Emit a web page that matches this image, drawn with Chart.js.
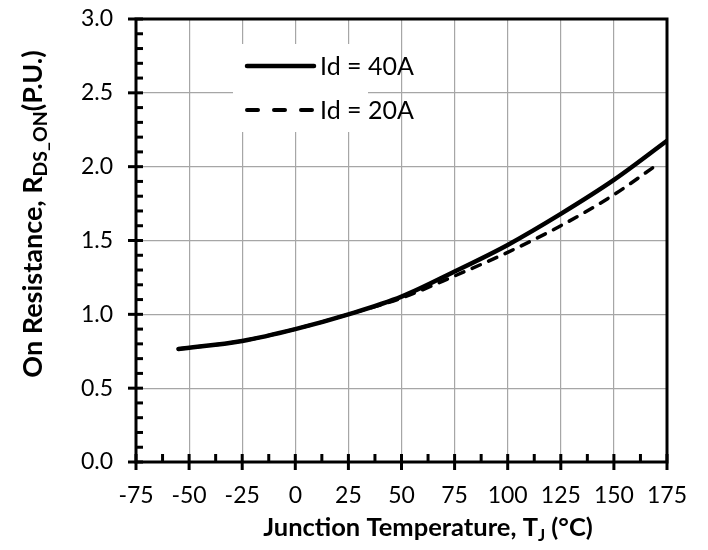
<!DOCTYPE html>
<html>
<head>
<meta charset="utf-8">
<script src="https://cdn.jsdelivr.net/npm/chart.js@4.4.1/dist/chart.umd.min.js"></script>
<style>
html,body{margin:0;padding:0;background:#fff;}
#wrap{width:708px;height:550px;position:relative;}
</style>
</head>
<body>
<div id="wrap"><canvas id="c" width="708" height="550"></canvas></div>
<script>
// Data
const temps40 = [-55, -25, 0, 25, 50, 75, 100, 125, 150, 175];
const rds40   = [0.765, 0.82, 0.90, 1.00, 1.12, 1.29, 1.47, 1.68, 1.91, 2.175];
const temps20 = [-55, -25, 0, 25, 50, 75, 100, 125, 150, 170];
const rds20   = [0.765, 0.82, 0.90, 1.00, 1.11, 1.26, 1.42, 1.60, 1.81, 2.01];
const seriesLabels = ['Id = 40A', 'Id = 20A'];
const xMin = -75, xMax = 175, xStep = 25;
const yMin = 0, yMax = 3.0, yStep = 0.5;

const FONT = 'Lato, "Noto Sans", sans-serif';

const framePlugin = {
  id: 'frame',
  afterDraw(chart) {
    const ctx = chart.ctx;
    const a = chart.chartArea;
    const xs = chart.scales.x, ys = chart.scales.y;
    ctx.save();
    ctx.strokeStyle = '#000';
    ctx.lineWidth = 3;
    ctx.lineCap = 'butt';
    ctx.strokeRect(a.left, a.top, a.right - a.left, a.bottom - a.top);
    // y ticks
    for (let v = yMin; v <= yMax + 1e-9; v += 0.1) {
      const y = ys.getPixelForValue(v);
      const major = Math.abs(Math.round(v / yStep) * yStep - v) < 1e-6;
      ctx.beginPath();
      ctx.moveTo(major ? a.left - 8 : a.left, y);
      ctx.lineTo(a.left + 7, y);
      ctx.stroke();
    }
    // x ticks
    for (let v = xMin; v <= xMax + 1e-9; v += xStep / 2) {
      const x = xs.getPixelForValue(v);
      const major = Math.abs(Math.round(v / xStep) * xStep - v) < 1e-6;
      ctx.beginPath();
      ctx.moveTo(x, a.bottom - 8);
      ctx.lineTo(x, major ? a.bottom + 8 : a.bottom);
      ctx.stroke();
    }
    // legend
    ctx.fillStyle = '#fff';
    ctx.fillRect(233, 44, 135, 88);
    ctx.lineCap = 'round';
    ctx.lineWidth = 4.5;
    ctx.setLineDash([]);
    ctx.beginPath(); ctx.moveTo(247, 66); ctx.lineTo(314, 66); ctx.stroke();
    ctx.lineWidth = 4;
    ctx.setLineDash([11, 16]);
    ctx.beginPath(); ctx.moveTo(247, 110); ctx.lineTo(315, 110); ctx.stroke();
    ctx.setLineDash([]);
    ctx.fillStyle = '#000';
    ctx.font = '25px ' + FONT;
    ctx.textBaseline = 'middle';
    ctx.textAlign = 'left';
    ctx.fillText(seriesLabels[0], 320, 67);
    ctx.fillText(seriesLabels[1], 320, 111);

    // axis titles with subscripts
    function drawRich(parts, size, subRatio) {
      let w = 0;
      parts.forEach(p => {
        ctx.font = 'bold ' + (p.sub ? size * subRatio : size) + 'px ' + FONT;
        p.w = ctx.measureText(p.t).width;
        w += p.w;
      });
      let x = -w / 2;
      parts.forEach(p => {
        ctx.font = 'bold ' + (p.sub ? size * subRatio : size) + 'px ' + FONT;
        ctx.fillText(p.t, x, p.sub ? size * 0.3 : 0);
        x += p.w;
      });
    }
    ctx.textAlign = 'left';
    ctx.textBaseline = 'middle';
    ctx.save();
    ctx.translate(428, 528);
    drawRich([{t: 'Junction Temperature, T'}, {t: 'J', sub: true}, {t: ' (°C)'}], 25.5, 0.66);
    ctx.restore();
    ctx.save();
    ctx.translate(33, 214);
    ctx.rotate(-Math.PI / 2);
    drawRich([{t: 'On Resistance, R'}, {t: 'DS_ON', sub: true}, {t: '(P.U.)'}], 27, 0.72);
    ctx.restore();
    ctx.restore();
  }
};

new Chart(document.getElementById('c'), {
  type: 'line',
  data: {
    datasets: [
      {
        label: seriesLabels[0],
        data: temps40.map((t, i) => ({x: t, y: rds40[i]})),
        borderColor: '#000', borderWidth: 4.5, pointRadius: 0,
        cubicInterpolationMode: 'monotone', fill: false, borderCapStyle: 'round'
      },
      {
        label: seriesLabels[1],
        data: temps20.map((t, i) => ({x: t, y: rds20[i]})),
        borderColor: '#000', borderWidth: 3.5, pointRadius: 0, borderDash: [9, 9],
        borderCapStyle: 'round',
        cubicInterpolationMode: 'monotone', fill: false
      }
    ]
  },
  options: {
    responsive: false,
    animation: false,
    layout: {padding: {left: 0, right: 41, top: 19, bottom: 0}},
    plugins: {legend: {display: false}, tooltip: {enabled: false}},
    scales: {
      x: {
        type: 'linear', min: xMin, max: xMax,
        ticks: {stepSize: xStep, color: '#000', font: {family: FONT, size: 23}, padding: 20, maxRotation: 0},
        grid: {color: '#a6a6a6', lineWidth: 1.2, drawTicks: false},
        border: {display: false},
        afterFit(s) { s.height = 88; s.paddingLeft = 0; s.paddingRight = 0; }
      },
      y: {
        type: 'linear', min: yMin, max: yMax,
        ticks: {stepSize: yStep, color: '#000', font: {family: FONT, size: 23}, padding: 23,
          callback: v => v.toFixed(1)},
        grid: {color: '#a6a6a6', lineWidth: 1.2, drawTicks: false},
        border: {display: false},
        afterFit(s) { s.width = 136; s.paddingTop = 0; s.paddingBottom = 0; }
      }
    }
  },
  plugins: [framePlugin]
});
</script>
</body>
</html>
